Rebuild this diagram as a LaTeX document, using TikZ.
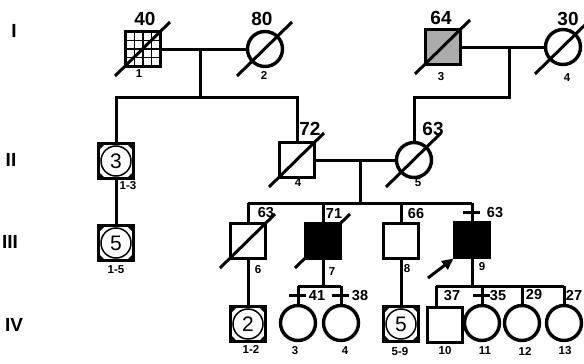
\documentclass[tikz,border=0pt]{standalone}
\usepackage{fontspec}
\setmainfont{Liberation Sans}
\usetikzlibrary{arrows.meta,positioning,calc}
\tikzset{
  person/.style={draw,line width=3.4pt,minimum size=35pt,inner sep=0pt,outer sep=0pt,fill=white},
  male/.style={person,rectangle},
  female/.style={person,circle},
  affected/.style={fill=black},
  carrier/.style={fill=gray!65},
  famline/.style={line width=3pt},
  strikeline/.style={line width=3pt},
  probandarrow/.style={-{Triangle[length=4mm,width=3.6mm]},line width=3pt},
  agelabel/.style={font=\bfseries\fontsize{19}{19}\selectfont,inner sep=0pt},
  smallage/.style={font=\bfseries\fontsize{14.5}{14.5}\selectfont,inner sep=0pt},
  idlabel/.style={font=\bfseries\fontsize{11.5}{11.5}\selectfont,inner sep=0pt},
  genlabel/.style={font=\bfseries\fontsize{19}{19}\selectfont,inner sep=0pt},
  countlabel/.style={font=\fontsize{21}{21}\selectfont}
}
% diagonal stroke through a deceased person
\newcommand\deceased[1]{%
  \draw[strikeline] ([shift={(-28,27)}]#1.center) -- ([shift={(27,-27)}]#1.center);}
% short bar across a line of descent
\newcommand\crossbar[1]{%
  \draw[famline] ([xshift=-9pt]#1) -- ([xshift=8pt]#1);}
% square holding a circle with a count of people
\newcommand\grouped[3]{%
  \node[male] (#1) at (#2) {};
  \fill (#1.north west) -- ++(7,0) -- ++(-7,7) -- cycle;
  \fill (#1.north east) -- ++(-7,0) -- ++(7,7) -- cycle;
  \fill (#1.south west) -- ++(7,0) -- ++(-7,-7) -- cycle;
  \fill (#1.south east) -- ++(-7,0) -- ++(7,-7) -- cycle;
  \node[draw,circle,line width=1.5pt,minimum size=30pt,inner sep=0pt,countlabel] at (#1) {#3};}

\begin{document}
\begin{tikzpicture}[x=1pt,y=-1pt]
  \useasboundingbox[fill=white] (0,0) rectangle (584,364);

  % generation labels
  \node[genlabel] (gI)   at (14,31)  {I};
  \node[genlabel] (gII)  at (11,160) {II};
  \node[genlabel] (gIII) at (10,242) {III};
  \node[genlabel] (gIV)  at (14,325) {IV};

  % generation I
  \node[male]            (i1) at (143,49) {};
  \foreach \k in {1,2,3} {
    \draw[line width=1.1pt] ($(i1.north west)!\k/4!(i1.north east)$) -- ($(i1.south west)!\k/4!(i1.south east)$);
    \draw[line width=1.1pt] ($(i1.north west)!\k/4!(i1.south west)$) -- ($(i1.north east)!\k/4!(i1.south east)$);
  }
  \draw[line width=3.4pt] (i1.north west) rectangle (i1.south east);
  \node[female]          (i2) at (265,49) {};
  \node[male,carrier]    (i3) at (443,47) {};
  \node[female]          (i4) at (563,47) {};
  \deceased{i1} \deceased{i2} \deceased{i3} \deceased{i4}

  \coordinate (m1) at (200,49);
  \coordinate (s1) at (200,97);
  \coordinate (m2) at (509,47);
  \coordinate (s2) at (509,97);
  \draw[famline] (i1) -- (i2);
  \draw[famline] (i3) -- (i4);

  % generation II
  \grouped{ii1}{116,161}{3}
  \node[male]   (ii4) at (297,160) {};
  \node[female] (ii5) at (414,160) {};
  \deceased{ii4} \deceased{ii5}
  \draw[famline] (m1) -- (s1);
  \draw[famline] (s1) -| (ii1.north);
  \draw[famline] (s1) -| (ii4.north);
  \draw[famline] (m2) -- (s2) -| (ii5.north);
  \draw[famline] (ii4) -- (ii5);
  \coordinate (m3) at (360,160);
  \coordinate (s3) at (360,203);
  \draw[famline] (m3) -- (s3);

  % generation III
  \grouped{iii1}{116,243}{5}
  \node[male]          (iii6) at (248,241) {};
  \node[male,affected] (iii7) at (323,241) {};
  \node[male]          (iii8) at (401,241) {};
  \node[male,affected] (iii9) at (472,240) {};
  \deceased{iii6} \deceased{iii7}
  \draw[famline] (ii1) -- (iii1);
  \draw[famline] (iii6.north |- s3) -- (iii9.north |- s3);
  \foreach \n in {iii6,iii7,iii8,iii9}
    \draw[famline] (\n.north |- s3) -- (\n.north);
  \crossbar{$(iii9.north)!0.5!(iii9.north |- s3)$}
  \coordinate (pa) at (428,278);
  \draw[probandarrow] (pa) -- ([shift={(-1,1)}]iii9.south west);

  % generation IV
  \grouped{iv1}{248,324}{2}
  \node[female] (iv3) at (298,323) {};
  \node[female] (iv4) at (341,323) {};
  \grouped{iv5}{401,324}{5}
  \node[male]   (iv10) at (445,325) {};
  \node[female] (iv11) at (482,323) {};
  \node[female] (iv12) at (522,323) {};
  \node[female] (iv13) at (564,323) {};
  \draw[famline] (iii6) -- (iv1);
  \draw[famline] (iii8) -- (iv5);
  \coordinate (s7) at (323,286);
  \draw[famline] (iii7) -- (s7);
  \draw[famline] (iv3.north |- s7) -- (iv4.north |- s7);
  \foreach \n in {iv3,iv4} {
    \draw[famline] (\n.north |- s7) -- (\n.north);
    \crossbar{$(\n.north)!0.5!(\n.north |- s7)$}
  }
  \coordinate (s9) at (472,286);
  \draw[famline] (iii9) -- (s9);
  \draw[famline] ([xshift=-9pt]iv10.north |- s9) -- (iv13.north |- s9);
  \draw[famline] ([xshift=-9pt]iv10.north |- s9) -- ([xshift=-9pt]iv10.north);
  \foreach \n in {iv11,iv12,iv13}
    \draw[famline] (\n.north |- s9) -- (\n.north);
  \crossbar{$(iv11.north)!0.5!(iv11.north |- s9)$}

  % ages
  \node[agelabel] (a1) at (145,19) {40};
  \node[agelabel] (a2) at (262,19) {80};
  \node[agelabel] (a3) at (441,18) {64};
  \node[agelabel] (a4) at (568,19) {30};
  \node[agelabel] (a5) at (310,129) {72};
  \node[agelabel] (a6) at (433,129) {63};
  \node[smallage] (a7)  at (266,213) {63};
  \node[smallage] (a8)  at (334,214) {71};
  \node[smallage] (a9)  at (416,214) {66};
  \node[smallage] (a10) at (495,213) {63};
  \node[smallage] (a11) at (317,296) {41};
  \node[smallage] (a12) at (360,296) {38};
  \node[smallage] (a13) at (452,296) {37};
  \node[smallage] (a14) at (498,296) {35};
  \node[smallage] (a15) at (534,295) {29};
  \node[smallage] (a16) at (574,295) {27};

  % individual numbers
  \node[idlabel] (n1)  at (139,74)  {1};
  \node[idlabel] (n2)  at (264,75)  {2};
  \node[idlabel] (n3)  at (441,77)  {3};
  \node[idlabel] (n4)  at (567,78)  {4};
  \node[idlabel] (n5)  at (128,186) {1-3};
  \node[idlabel] (n6)  at (298,183) {4};
  \node[idlabel] (n7)  at (418,183) {5};
  \node[idlabel] (n8)  at (116,270) {1-5};
  \node[idlabel] (n9)  at (258,270) {6};
  \node[idlabel] (n10) at (332,272) {7};
  \node[idlabel] (n11) at (407,269) {8};
  \node[idlabel] (n12) at (482,267) {9};
  \node[idlabel] (n13) at (251,349) {1-2};
  \node[idlabel] (n14) at (295,351) {3};
  \node[idlabel] (n15) at (345,351) {4};
  \node[idlabel] (n16) at (400,352) {5-9};
  \node[idlabel] (n17) at (445,351) {10};
  \node[idlabel] (n18) at (485,351) {11};
  \node[idlabel] (n19) at (525,351) {12};
  \node[idlabel] (n20) at (565,351) {13};
\end{tikzpicture}
\end{document}
